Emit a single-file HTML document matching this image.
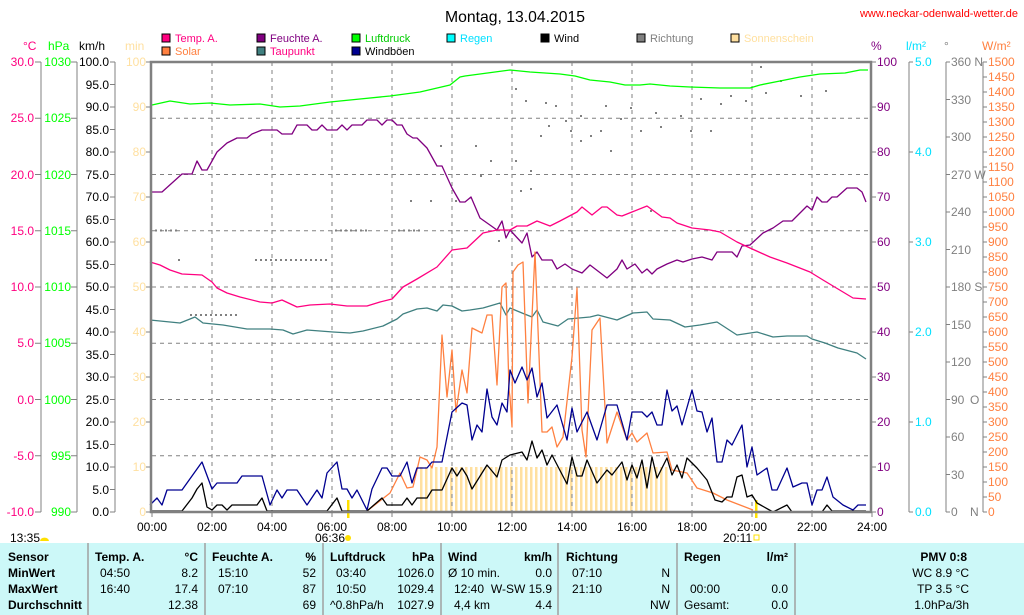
<!DOCTYPE html>
<html><head><meta charset="utf-8"><style>
body{margin:0;background:#fff;width:1024px;height:615px;overflow:hidden}
svg{display:block;font-family:"Liberation Sans",sans-serif}
.t{font-size:12px}
</style></head><body>
<svg width="1024" height="615" viewBox="0 0 1024 615" xmlns="http://www.w3.org/2000/svg">
<defs><pattern id="sun" x="420" y="0" width="5" height="10" patternUnits="userSpaceOnUse"><rect width="2.5" height="10" fill="#ffe0a0"/></pattern></defs>
<text x="515" y="22" font-size="16" text-anchor="middle" textLength="140" lengthAdjust="spacingAndGlyphs">Montag, 13.04.2015</text>
<text x="1018" y="17" font-size="11" fill="#ff0000" text-anchor="end" textLength="158" lengthAdjust="spacingAndGlyphs">www.neckar-odenwald-wetter.de</text>
<g font-size="11">
<rect x="162" y="34" width="8" height="8" fill="#ff0080" stroke="#000"/><text x="175" y="42" fill="#ff0080">Temp. A.</text>
<rect x="162" y="47" width="8" height="8" fill="#ff8040" stroke="#000"/><text x="175" y="55" fill="#ff8040">Solar</text>
<rect x="257" y="34" width="8" height="8" fill="#800080" stroke="#000"/><text x="270" y="42" fill="#800080">Feuchte A.</text>
<rect x="257" y="47" width="8" height="8" fill="#408080" stroke="#000"/><text x="270" y="55" fill="#ff0080">Taupunkt</text>
<rect x="352" y="34" width="8" height="8" fill="#00ff00" stroke="#000"/><text x="365" y="42" fill="#00cc00">Luftdruck</text>
<rect x="352" y="47" width="8" height="8" fill="#000090" stroke="#000"/><text x="365" y="55">Windböen</text>
<rect x="447" y="34" width="8" height="8" fill="#00ffff" stroke="#000"/><text x="460" y="42" fill="#00e0ff">Regen</text>
<rect x="541" y="34" width="8" height="8" fill="#000" stroke="#000"/><text x="554" y="42">Wind</text>
<rect x="637" y="34" width="8" height="8" fill="#808080" stroke="#000"/><text x="650" y="42" fill="#808080">Richtung</text>
<rect x="731" y="34" width="8" height="8" fill="#ffe0a0" stroke="#000"/><text x="744" y="42" fill="#ffe0a0">Sonnenschein</text>
</g>
<g class="t">
<text x="23" y="50" fill="#ff0080">°C</text><text x="48" y="50" fill="#00ff00">hPa</text><text x="79" y="50">km/h</text><text x="125" y="50" fill="#ffe0a0">min</text>
<text x="871" y="50" fill="#800080">%</text><text x="906" y="50" fill="#00e0ff">l/m²</text><text x="944" y="50" fill="#808080">°</text><text x="982" y="50" fill="#ff8040">W/m²</text>
</g>
<g stroke="#808080" fill="none">
<path d="M41 62V512M77 62V512M115 62V512M909 62V512M946 62V512M983 62V512"/>
<path d="M35 62h6M35 118.25h6M35 174.5h6M35 230.75h6M35 287h6M35 343.25h6M35 399.5h6M35 455.75h6M35 512h6"/>
<path d="M71 62h6M71 118.25h6M71 174.5h6M71 230.75h6M71 287h6M71 343.25h6M71 399.5h6M71 455.75h6M71 512h6"/>
<path d="M115 62h-5M115 84.5h-5M115 107h-5M115 129.5h-5M115 152h-5M115 174.5h-5M115 197h-5M115 219.5h-5M115 242h-5M115 264.5h-5M115 287h-5M115 309.5h-5M115 332h-5M115 354.5h-5M115 377h-5M115 399.5h-5M115 422h-5M115 444.5h-5M115 467h-5M115 489.5h-5M115 512h-5"/>
<path d="M146 62h5M146 107h5M146 152h5M146 197h5M146 242h5M146 287h5M146 332h5M146 377h5M146 422h5M146 467h5M146 512h5"/>
<path d="M871 62h5M871 107h5M871 152h5M871 197h5M871 242h5M871 287h5M871 332h5M871 377h5M871 422h5M871 467h5M871 512h5"/>
<path d="M909 62h4M909 152h4M909 242h4M909 332h4M909 422h4M909 512h4"/>
<path d="M946 62h4M946 99.5h4M946 137h4M946 174.5h4M946 212h4M946 249.5h4M946 287h4M946 324.5h4M946 362h4M946 399.5h4M946 437h4M946 474.5h4M946 512h4"/>
<path d="M983 62h4M983 77h4M983 92h4M983 107h4M983 122h4M983 137h4M983 152h4M983 167h4M983 182h4M983 197h4M983 212h4M983 227h4M983 242h4M983 257h4M983 272h4M983 287h4M983 302h4M983 317h4M983 332h4M983 347h4M983 362h4M983 377h4M983 392h4M983 407h4M983 422h4M983 437h4M983 452h4M983 467h4M983 482h4M983 497h4M983 512h4"/>
<path d="M152 512v5M212 512v5M272 512v5M332 512v5M392 512v5M452 512v5M512 512v5M572 512v5M632 512v5M692 512v5M752 512v5M812 512v5M872 512v5"/>
</g>
<g class="t" text-anchor="end" fill="#ff0080">
<text x="34" y="66">30.0</text><text x="34" y="122">25.0</text><text x="34" y="179">20.0</text><text x="34" y="235">15.0</text><text x="34" y="291">10.0</text><text x="34" y="347">5.0</text><text x="34" y="404">0.0</text><text x="34" y="460">-5.0</text><text x="34" y="516">-10.0</text>
</g>
<g class="t" text-anchor="end" fill="#00ff00">
<text x="71" y="66">1030</text><text x="71" y="122">1025</text><text x="71" y="179">1020</text><text x="71" y="235">1015</text><text x="71" y="291">1010</text><text x="71" y="347">1005</text><text x="71" y="404">1000</text><text x="71" y="460">995</text><text x="71" y="516">990</text>
</g>
<g class="t" text-anchor="end">
<text x="109" y="66">100.0</text><text x="109" y="89">95.0</text><text x="109" y="111">90.0</text><text x="109" y="134">85.0</text><text x="109" y="156">80.0</text><text x="109" y="179">75.0</text><text x="109" y="201">70.0</text><text x="109" y="224">65.0</text><text x="109" y="246">60.0</text><text x="109" y="269">55.0</text><text x="109" y="291">50.0</text><text x="109" y="314">45.0</text><text x="109" y="336">40.0</text><text x="109" y="359">35.0</text><text x="109" y="381">30.0</text><text x="109" y="404">25.0</text><text x="109" y="426">20.0</text><text x="109" y="449">15.0</text><text x="109" y="471">10.0</text><text x="109" y="494">5.0</text><text x="109" y="516">0.0</text>
</g>
<g class="t" text-anchor="end" fill="#ffe0a0">
<text x="146" y="66">100</text><text x="146" y="111">90</text><text x="146" y="156">80</text><text x="146" y="201">70</text><text x="146" y="246">60</text><text x="146" y="291">50</text><text x="146" y="336">40</text><text x="146" y="381">30</text><text x="146" y="426">20</text><text x="146" y="471">10</text><text x="146" y="516">0</text>
</g>
<g class="t" fill="#800080">
<text x="877" y="66">100</text><text x="877" y="111">90</text><text x="877" y="156">80</text><text x="877" y="201">70</text><text x="877" y="246">60</text><text x="877" y="291">50</text><text x="877" y="336">40</text><text x="877" y="381">30</text><text x="877" y="426">20</text><text x="877" y="471">10</text><text x="877" y="516">0</text>
</g>
<g class="t" fill="#00e0ff">
<text x="915" y="66">5.0</text><text x="915" y="156">4.0</text><text x="915" y="246">3.0</text><text x="915" y="336">2.0</text><text x="915" y="426">1.0</text><text x="915" y="516">0.0</text>
</g>
<g class="t" fill="#808080">
<text x="951" y="66">360 N</text><text x="951" y="104">330</text><text x="951" y="141">300</text><text x="951" y="179">270 W</text><text x="951" y="216">240</text><text x="951" y="254">210</text><text x="951" y="291">180 S</text><text x="951" y="329">150</text><text x="951" y="366">120</text><text x="951" y="404">90</text><text x="970" y="404">O</text><text x="951" y="441">60</text><text x="951" y="479">30</text><text x="951" y="516">0</text><text x="970" y="516">N</text>
</g>
<g class="t" fill="#ff8040">
<text x="988" y="66">1500</text><text x="988" y="81">1450</text><text x="988" y="96">1400</text><text x="988" y="111">1350</text><text x="988" y="126">1300</text><text x="988" y="141">1250</text><text x="988" y="156">1200</text><text x="988" y="171">1150</text><text x="988" y="186">1100</text><text x="988" y="201">1050</text><text x="988" y="216">1000</text><text x="988" y="231">950</text><text x="988" y="246">900</text><text x="988" y="261">850</text><text x="988" y="276">800</text><text x="988" y="291">750</text><text x="988" y="306">700</text><text x="988" y="321">650</text><text x="988" y="336">600</text><text x="988" y="351">550</text><text x="988" y="366">500</text><text x="988" y="381">450</text><text x="988" y="396">400</text><text x="988" y="411">350</text><text x="988" y="426">300</text><text x="988" y="441">250</text><text x="988" y="456">200</text><text x="988" y="471">150</text><text x="988" y="486">100</text><text x="988" y="501">50</text><text x="988" y="516">0</text>
</g>
<g class="t" text-anchor="middle">
<text x="152" y="531">00:00</text><text x="212" y="531">02:00</text><text x="272" y="531">04:00</text><text x="332" y="531">06:00</text><text x="392" y="531">08:00</text><text x="452" y="531">10:00</text><text x="512" y="531">12:00</text><text x="572" y="531">14:00</text><text x="632" y="531">16:00</text><text x="692" y="531">18:00</text><text x="752" y="531">20:00</text><text x="812" y="531">22:00</text><text x="872" y="531">24:00</text>
</g>
<text class="t" x="10" y="542">13:35</text><path d="M40 541a4 3 0 0 1 9 0z" fill="#ffe000"/>
<text class="t" x="315" y="542">06:36</text><circle cx="348" cy="538" r="3" fill="#ffe000"/>
<text class="t" x="723" y="542">20:11</text><rect x="754" y="535" width="5" height="5" fill="none" stroke="#ffe000"/>
<rect x="347" y="500" width="2.5" height="18" fill="#ffe000"/><rect x="755" y="500" width="2.5" height="18" fill="#ffe000"/>
<rect x="420" y="467" width="248" height="45" fill="url(#sun)"/>
<g stroke="#808080" stroke-dasharray="4,4" fill="none">
<path d="M152 118.25H870M152 174.5H870M152 230.75H870M152 287H870M152 343.25H870M152 399.5H870M152 455.75H870"/>
<path d="M212 62V512M272 62V512M332 62V512M392 62V512M452 62V512M512 62V512M572 62V512M632 62V512M692 62V512M752 62V512M812 62V512"/>
</g>
<g stroke="#808080" stroke-width="2" stroke-dasharray="2,3" fill="none">
<path d="M155 230.5h24M255 260h72M190 315h48M335 230.5h35M398 230.5h25"/>
</g>
<g fill="#808080">
<rect x="178" y="259" width="2" height="2"/><rect x="440" y="145" width="2" height="2"/><rect x="475" y="145" width="2" height="2"/><rect x="490" y="160" width="2" height="2"/><rect x="410" y="200" width="2" height="2"/><rect x="430" y="200" width="2" height="2"/><rect x="455" y="200" width="2" height="2"/><rect x="480" y="175" width="2" height="2"/><rect x="498" y="240" width="2" height="2"/>
<rect x="515" y="160" width="2" height="2"/><rect x="520" y="190" width="2" height="2"/><rect x="530" y="188" width="2" height="2"/><rect x="525" y="100" width="2" height="2"/><rect x="545" y="102" width="2" height="2"/><rect x="555" y="105" width="2" height="2"/><rect x="565" y="120" width="2" height="2"/><rect x="548" y="125" width="2" height="2"/><rect x="540" y="135" width="2" height="2"/><rect x="580" y="140" width="2" height="2"/><rect x="590" y="135" width="2" height="2"/><rect x="600" y="130" width="2" height="2"/><rect x="605" y="105" width="2" height="2"/><rect x="580" y="115" width="2" height="2"/><rect x="620" y="118" width="2" height="2"/><rect x="630" y="107" width="2" height="2"/><rect x="640" y="130" width="2" height="2"/><rect x="655" y="112" width="2" height="2"/><rect x="660" y="126" width="2" height="2"/><rect x="680" y="115" width="2" height="2"/><rect x="690" y="130" width="2" height="2"/><rect x="700" y="98" width="2" height="2"/><rect x="710" y="130" width="2" height="2"/><rect x="720" y="103" width="2" height="2"/><rect x="730" y="95" width="2" height="2"/><rect x="745" y="100" width="2" height="2"/><rect x="760" y="66" width="2" height="2"/><rect x="765" y="92" width="2" height="2"/><rect x="780" y="80" width="2" height="2"/><rect x="800" y="95" width="2" height="2"/><rect x="825" y="90" width="2" height="2"/><rect x="610" y="150" width="2" height="2"/><rect x="650" y="210" width="2" height="2"/><rect x="530" y="170" width="2" height="2"/><rect x="570" y="130" width="2" height="2"/><rect x="515" y="88" width="2" height="2"/>
</g>
<g fill="none" stroke-width="1.3" stroke-linejoin="round">
<polyline stroke="#00ff00" points="152,105 170,101 190,104 210,103 230,105 260,104 280,107 300,106 330,102 360,99 390,96 420,92 450,85 460,77 465,76 480,74 495,72 510,70 530,72 545,73 560,74 575,76 590,80 610,82 625,85 640,85 650,84 670,86 690,87 720,88 750,88 760,85 780,81 800,77 820,74 845,73 860,70 868,70"/>
<polyline stroke="#800080" points="150,192 162,192 182,174 192,174 197,161 202,170 207,170 217,152 227,143 237,138 247,138 252,134 262,130 277,130 282,134 292,134 297,125 307,125 312,130 317,130 322,125 327,130 337,130 342,125 347,130 352,125 362,125 367,120 377,120 382,125 387,120 392,120 397,125 402,125 407,134 413,138 417,138 427,148 437,166 442,166 452,188 460,202 465,202 471,197 480,218 497,230 502,221 506,238 510,230 522,243 527,233 532,257 537,252 542,260 552,260 557,269 565,264 572,269 582,273 590,265 607,278 617,269 622,260 627,269 635,264 642,273 647,269 652,274 657,269 667,264 677,260 683,262 692,259 702,257 712,260 717,252 732,252 737,257 742,246 750,245 763,233 773,228 783,221 792,221 807,206 812,210 817,197 822,202 827,202 832,197 837,197 847,188 857,188 862,192 866,202"/>
<polyline stroke="#ff0080" points="150,262 160,265 170,270 182,274 202,275 212,282 217,288 227,293 240,297 260,302 272,303 282,300 297,307 310,305 330,304 347,306 367,306 380,302 392,299 403,287 417,279 437,267 452,250 467,248 483,233 497,230 510,230 517,226 527,226 537,221 550,226 560,221 577,212 582,207 592,215 602,207 607,207 617,215 622,216 632,212 647,206 662,217 670,218 677,223 692,228 710,230 720,232 737,242 750,248 770,257 787,263 810,272 823,280 838,289 853,298 866,299"/>
<polyline stroke="#408080" points="150,320 180,323 195,317 203,323 223,325 247,329 270,329 283,330 293,334 307,330 320,331 333,332 350,333 363,331 383,326 397,319 403,314 417,309 427,308 437,311 443,305 452,306 462,311 470,310 483,308 500,303 506,315 510,308 522,313 532,317 537,310 543,322 558,326 568,319 590,317 598,315 617,320 633,313 647,312 653,319 670,320 685,327 700,325 717,322 737,335 757,332 773,337 787,336 807,336 812,339 825,343 838,348 857,353 866,359"/>
<polyline stroke="#ff8040" points="367,511 390,493 400,473 407,488 413,487 420,457 427,460 432,468 437,447 442,335 447,397 452,350 456,412 462,370 467,393 472,328 482,333 487,315 492,315 497,385 502,287 506,283 509,390 510,397 512,427 513,272 518,265 523,262 528,403 535,252 542,432 547,432 552,427 557,447 563,437 572,357 577,288 582,430 586,457 592,330 600,318 607,443 617,412 627,440 632,433 637,442 647,433 653,453 667,452 672,470 687,473 697,488 713,493 727,500 740,505 753,510"/>
<polyline stroke="#000090" points="150,505 157,498 162,505 167,490 182,490 202,462 212,489 217,483 237,483 242,476 262,476 270,505 277,490 282,498 287,490 297,490 307,505 317,490 322,498 327,473 337,462 342,489 347,489 352,498 357,490 367,510 372,489 382,468 387,468 392,476 400,476 407,462 412,483 417,468 427,468 432,462 442,462 452,412 462,403 467,405 472,440 477,425 482,432 487,389 492,417 497,425 502,403 507,412 510,370 515,383 522,367 527,380 532,368 537,397 542,383 547,418 557,405 567,440 572,408 577,432 587,412 597,440 607,405 617,405 627,440 632,412 642,412 647,417 652,412 657,425 662,425 667,390 672,411 677,406 682,425 692,390 697,411 702,412 707,432 712,418 717,462 722,462 727,440 732,445 742,425 747,467 752,447 757,475 767,468 772,490 777,490 787,468 793,487 802,483 807,483 812,505 817,490 822,490 827,477 833,497 843,505 853,510 858,505 866,505"/>
<polyline stroke="#000" points="150,511 182,511 192,498 197,489 202,483 207,507 212,510 217,505 222,505 227,510 232,505 257,505 262,498 267,511 327,511 337,498 342,511 367,511 382,498 387,505 402,505 407,498 412,505 417,498 427,498 432,490 442,490 452,468 457,476 462,468 467,476 472,489 487,465 497,477 502,460 510,455 522,452 527,460 532,441 537,458 542,450 547,465 552,455 567,484 572,457 577,476 582,476 587,460 597,483 607,470 612,475 622,462 627,480 632,465 637,478 642,460 647,488 652,457 657,478 667,458 672,475 677,465 682,478 687,458 697,468 707,480 715,500 722,502 727,497 732,497 737,477 742,475 747,497 752,495 757,503 773,512 787,505 792,512 822,512 827,505 832,511 866,511"/>
</g>
<path d="M151 62V512H871V62Z" fill="none" stroke="#808080" stroke-width="2.5"/>
<rect x="0" y="543" width="1024" height="72" fill="#ccf8f8"/>
<g stroke="#a0a0a0" stroke-width="1.5"><path d="M88 543V615M205 543V615M323 543V615M441 543V615M558 543V615M677 543V615M795 543V615"/></g>
<g class="t" font-weight="bold">
<text x="8" y="561">Sensor</text><text x="8" y="577">MinWert</text><text x="8" y="593">MaxWert</text><text x="8" y="609">Durchschnitt</text>
<text x="95" y="561">Temp. A.</text><text x="198" y="561" text-anchor="end">°C</text>
<text x="212" y="561">Feuchte A.</text><text x="316" y="561" text-anchor="end">%</text>
<text x="330" y="561">Luftdruck</text><text x="434" y="561" text-anchor="end">hPa</text>
<text x="448" y="561">Wind</text><text x="552" y="561" text-anchor="end">km/h</text>
<text x="566" y="561">Richtung</text>
<text x="684" y="561">Regen</text><text x="788" y="561" text-anchor="end">l/m²</text>
<text x="967" y="561" text-anchor="end">PMV 0:8</text>
</g>
<g class="t">
<text x="100" y="577">04:50</text><text x="198" y="577" text-anchor="end">8.2</text>
<text x="100" y="593">16:40</text><text x="198" y="593" text-anchor="end">17.4</text>
<text x="198" y="609" text-anchor="end">12.38</text>
<text x="218" y="577">15:10</text><text x="316" y="577" text-anchor="end">52</text>
<text x="218" y="593">07:10</text><text x="316" y="593" text-anchor="end">87</text>
<text x="316" y="609" text-anchor="end">69</text>
<text x="336" y="577">03:40</text><text x="434" y="577" text-anchor="end">1026.0</text>
<text x="336" y="593">10:50</text><text x="434" y="593" text-anchor="end">1029.4</text>
<text x="330" y="609">^0.8hPa/h</text><text x="434" y="609" text-anchor="end">1027.9</text>
<text x="448" y="577">Ø 10 min.</text><text x="552" y="577" text-anchor="end">0.0</text>
<text x="454" y="593">12:40</text><text x="552" y="593" text-anchor="end">W-SW 15.9</text>
<text x="454" y="609">4,4 km</text><text x="552" y="609" text-anchor="end">4.4</text>
<text x="572" y="577">07:10</text><text x="670" y="577" text-anchor="end">N</text>
<text x="572" y="593">21:10</text><text x="670" y="593" text-anchor="end">N</text>
<text x="670" y="609" text-anchor="end">NW</text>
<text x="690" y="593">00:00</text><text x="788" y="593" text-anchor="end">0.0</text>
<text x="684" y="609">Gesamt:</text><text x="788" y="609" text-anchor="end">0.0</text>
<text x="969" y="577" text-anchor="end">WC 8.9 °C</text>
<text x="969" y="593" text-anchor="end">TP 3.5 °C</text>
<text x="969" y="609" text-anchor="end">1.0hPa/3h</text>
</g>
</svg>
</body></html>
